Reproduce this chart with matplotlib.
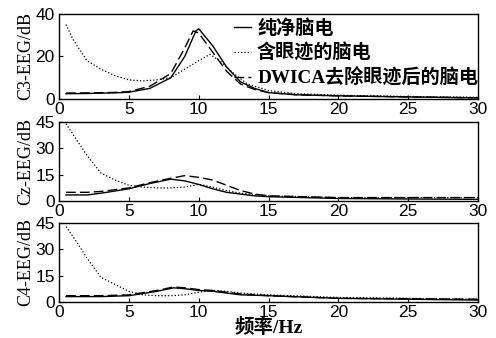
import matplotlib.pyplot as plt

plt.rcParams['font.family'] = ['Liberation Sans', 'Noto Sans CJK SC']
plt.rcParams['xtick.direction'] = 'in'
plt.rcParams['ytick.direction'] = 'in'

labels = ["纯净脑电", "含眼迹的脑电", "DWICA去除眼迹后的脑电"]
channels = ["C3-EEG/dB", "Cz-EEG/dB", "C4-EEG/dB"]
ylims = [40, 45, 45]
yticks = [[0, 20, 40], [0, 15, 30, 45], [0, 15, 30, 45]]

# C3
c3_f = [0.5, 2, 4, 5, 6.5, 8, 9, 9.8, 10, 11, 12, 13, 14, 15, 17, 20, 25, 30]
c3_clean = [2.5, 2.6, 2.9, 3.2, 5, 10, 20, 32, 33, 25, 15, 8, 5, 3, 2, 1.5, 1, 0.5]
c3_art_f = [0.5, 1, 2, 3, 4, 5, 6, 7, 8, 9, 10, 10.8, 11.5, 12.5, 13.5, 15, 17, 20, 25, 30]
c3_art = [35, 28, 18, 14, 11, 9, 8.5, 9, 10, 14, 18, 21, 18, 12, 7, 4, 2.5, 1.8, 1.2, 0.8]
c3_dw_f = [0.5, 2, 4, 5, 6.5, 8, 9, 9.6, 10, 11, 12, 13, 14, 15, 17, 20, 25, 30]
c3_dw = [2.8, 2.9, 3.1, 3.5, 6, 12, 24, 32, 31, 22, 13, 7, 4.5, 3, 2, 1.5, 1, 0.6]

# Cz
cz_f = [0.5, 2, 3, 5, 6.5, 8, 9, 10, 11, 12, 13, 14, 15, 20, 25, 30]
cz_clean = [3.5, 3.5, 4.5, 7, 10, 12.5, 11.5, 9.5, 7, 5, 4, 3, 2.5, 1.5, 1.2, 1]
cz_art_f = [0.5, 1, 2, 3, 4, 5, 6, 7, 8, 9, 10, 11, 12, 13, 15, 20, 25, 30]
cz_art = [44, 38, 26, 16, 12, 9, 8, 7.5, 7.5, 8, 9.5, 8, 6, 4.5, 3, 2, 2, 2]
cz_dw = [5, 5, 5.5, 7.5, 10.5, 13, 14.5, 13.5, 12, 9, 6, 4, 3, 2, 2, 2]

# C4
c4_f = [0.5, 3, 5, 7, 8.2, 9, 10, 11, 12, 13, 15, 20, 25, 30]
c4_clean = [3, 3, 3.5, 6, 8, 7.5, 6.5, 6, 5, 4, 3.5, 2, 1.5, 1]
c4_art_f = [0.5, 1.2, 2, 3, 4, 5, 6, 7, 8, 9, 10, 11, 12, 13, 15, 20, 25, 30]
c4_art = [43, 35, 25, 14, 10, 6, 4, 3.5, 3.5, 4, 5.5, 6.5, 6, 5, 4, 2.5, 2, 1.5]
c4_dw = [3.5, 3.5, 4, 6.5, 8.5, 8, 7, 6.5, 5.5, 4.5, 3.5, 2, 1.8, 1.5]

data = [
    (c3_f, c3_clean, c3_art_f, c3_art, c3_dw_f, c3_dw),
    (cz_f, cz_clean, cz_art_f, cz_art, cz_f, cz_dw),
    (c4_f, c4_clean, c4_art_f, c4_art, c4_f, c4_dw),
]

fig = plt.figure(figsize=(4.96, 3.38), dpi=100)
boxes = [[0.119, 0.707, 0.845, 0.252],
         [0.119, 0.405, 0.845, 0.234],
         [0.119, 0.107, 0.845, 0.233]]

for i in range(3):
    ax = fig.add_axes(boxes[i])
    f1, y1, f2, y2, f3, y3 = data[i]
    ax.plot(f1, y1, color='black', lw=1.0, label=labels[0])
    ax.plot(f2, y2, color='black', lw=0.9, linestyle=':', label=labels[1])
    ax.plot(f3, y3, color='black', lw=1.0, linestyle=(0, (7, 3)), label=labels[2])
    ax.set_xlim(0, 30)
    ax.set_ylim(0, ylims[i])
    ax.set_xticks([0, 5, 10, 15, 20, 25, 30])
    ax.set_yticks(yticks[i])
    ax.tick_params(labelsize=12.5, length=3)
    ax.tick_params(axis='x', pad=2)
    ax.tick_params(axis='y', pad=3)
    ax.set_ylabel(channels[i], family=['Liberation Serif'], fontsize=13,
                  labelpad=1)
    for s in ax.spines.values():
        s.set_linewidth(1.0)
    if i == 0:
        ax.legend(loc='upper right', frameon=False, handlelength=0.9,
                  borderaxespad=0.0, borderpad=0.0, labelspacing=0.3,
                  handletextpad=0.3, bbox_to_anchor=(1.0, 0.94),
                  prop={'family': ['Liberation Serif', 'Noto Sans CJK SC'],
                        'size': 13.75, 'weight': 'bold'})
    if i == 2:
        ax.set_xlabel("频率/Hz", family=['Liberation Serif', 'Noto Sans CJK SC'],
                      fontsize=14, fontweight='bold', labelpad=-1)

fig.savefig("out.png", dpi=100)
